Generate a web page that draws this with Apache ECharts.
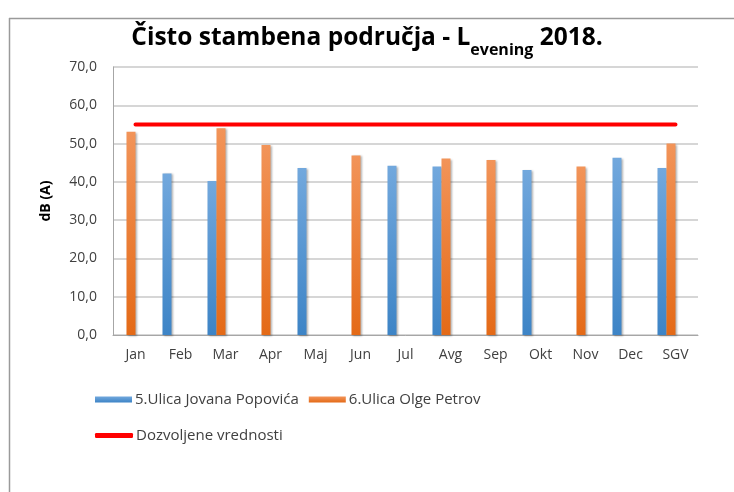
<!DOCTYPE html>
<html>
<head>
<meta charset="utf-8">
<script src="https://cdn.jsdelivr.net/npm/echarts@6/dist/echarts.min.js"></script>
<style>
    html, body { margin: 0; padding: 0; background: #fff; }
    #chart { width: 734px; height: 492px; }
</style>
</head>
<body>
<div id="chart"></div>
<script>
    // podaci
    var months = ['Jan', 'Feb', 'Mar', 'Apr', 'Maj', 'Jun', 'Jul', 'Avg', 'Sep', 'Okt', 'Nov', 'Dec', 'SGV'];
    var jovanaPopovica = [null, 42.2, 40.2, null, 43.6, null, 44.2, 44.0, null, 43.1, null, 46.3, 43.6];
    var olgePetrov = [53.1, null, 54.0, 49.6, null, 46.9, null, 46.1, 45.7, null, 44.0, null, 50.0];
    var dozvoljene = [55, 55, 55, 55, 55, 55, 55, 55, 55, 55, 55, 55, 55];
    var emptySlot = [null, null, null, null, null, null, null, null, null, null, null, null, null];

    var FONT = '"Open Sans", sans-serif';

    function grad(top, bottom) {
        return new echarts.graphic.LinearGradient(0, 0, 0, 1, [
            { offset: 0, color: top },
            { offset: 1, color: bottom }
        ]);
    }

    var myChart = echarts.init(document.getElementById('chart'));
    var barStyle = { shadowBlur: 2, shadowColor: 'rgba(0,0,0,0.3)', shadowOffsetX: 1, shadowOffsetY: 1 };

    var option = {
        backgroundColor: '#fff',
        animation: false,
        title: {
            left: 'center',
            top: 14,
            text: '{a|Čisto stambena područja - L}{s|evening}{a| 2018.}',
            textStyle: {
                rich: {
                    a: { fontFamily: FONT, fontWeight: 'bold', fontSize: 24.5, color: '#000', verticalAlign: 'bottom', lineHeight: 32 },
                    s: { fontFamily: FONT, fontWeight: 'bold', fontSize: 16, color: '#000', verticalAlign: 'bottom', lineHeight: 22, padding: [0, 0, -7, 0] }
                }
            }
        },
        graphic: [
            { type: 'line', shape: { x1: 9, y1: 18.5, x2: 734, y2: 18.5 }, style: { stroke: '#9a9a9a', lineWidth: 1.5 } },
            { type: 'line', shape: { x1: 9.5, y1: 18, x2: 9.5, y2: 492 }, style: { stroke: '#9a9a9a', lineWidth: 1.5 } }
        ],
        legend: [
            {
                left: 90, top: 387,
                data: ['5.Ulica Jovana Popovića', '6.Ulica Olge Petrov'],
                icon: 'rect', itemWidth: 37, itemHeight: 6, itemGap: 10,
                textStyle: { fontFamily: FONT, fontSize: 15, color: '#404040', padding: [0, 0, 0, -2] }
            },
            {
                left: 90, top: 423,
                data: ['Dozvoljene vrednosti'],
                icon: 'roundRect', itemWidth: 38, itemHeight: 5,
                textStyle: { fontFamily: FONT, fontSize: 15, color: '#404040', padding: [0, 0, 0, -2] }
            }
        ],
        grid: { left: 113, right: 36, top: 67, bottom: 157 },
        xAxis: {
            type: 'category',
            data: months,
            axisLine: { lineStyle: { color: '#a6a6a6' } },
            axisTick: { show: false },
            axisLabel: { fontFamily: FONT, fontSize: 14, color: '#404040', margin: 13 }
        },
        yAxis: {
            type: 'value',
            min: 0, max: 70, interval: 10,
            name: 'dB (A)',
            nameLocation: 'middle',
            nameGap: 60,
            nameTextStyle: { fontFamily: FONT, fontSize: 14, fontWeight: 'bold', color: '#000' },
            axisLine: { show: true, lineStyle: { color: '#a6a6a6' } },
            axisTick: { show: false },
            splitLine: { lineStyle: { color: '#c8c8c8', width: 1.5 } },
            axisLabel: {
                fontFamily: FONT, fontSize: 14, color: '#404040', margin: 16,
                formatter: function (v) { return v.toFixed(1).replace('.', ','); }
            }
        },
        series: [
            {
                name: '5.Ulica Jovana Popovića', type: 'bar', data: jovanaPopovica,
                barWidth: 9, barGap: '0%',
                itemStyle: Object.assign({ color: grad('#72a8dd', '#3d84c6') }, barStyle)
            },
            {
                name: '6.Ulica Olge Petrov', type: 'bar', data: olgePetrov,
                barWidth: 9, barGap: '0%',
                itemStyle: Object.assign({ color: grad('#f29459', '#e46a17') }, barStyle)
            },
            // prazna mesta (kao u Excelu, grupa je pomerena levo)
            { name: 'p1', type: 'bar', data: emptySlot, barWidth: 9, barGap: '0%' },
            { name: 'p2', type: 'bar', data: emptySlot, barWidth: 9, barGap: '0%' },
            {
                name: 'Dozvoljene vrednosti', type: 'line', data: dozvoljene,
                symbol: 'none',
                lineStyle: { color: '#ff0000', width: 4, cap: 'round' },
                itemStyle: { color: '#ff0000' }
            }
        ]
    };
    myChart.setOption(option);
    window.addEventListener('resize', function () {
        myChart.resize();
    });
</script>
</body>
</html>
